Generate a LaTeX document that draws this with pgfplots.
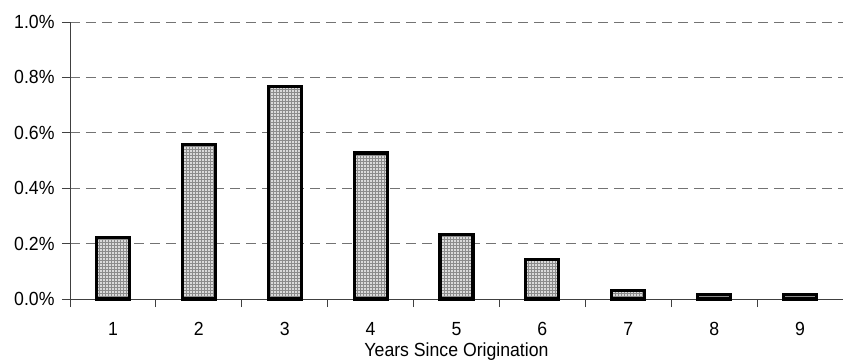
\documentclass[border=0pt]{standalone}
\usepackage{pgfplots}
\pgfplotsset{compat=1.18}
\usepackage{fontspec}
\setmainfont{Liberation Sans}[FakeStretch=0.93]
\usetikzlibrary{patterns}

\begin{document}
\begin{tikzpicture}
\begin{axis}[
    name=main,
    font=\fontsize{19}{22}\selectfont,
    scale only axis,
    width=773pt,
    height=277pt,
    ybar,
    bar width=33pt,
    xmin=0.5, xmax=9.5,
    ymin=0, ymax=1.0,
    axis x line*=bottom,
    axis y line*=left,
    axis line style={black!75, line width=0.8pt},
    tick align=outside,
    major tick length=8pt,
    tick style={black!75, line width=0.8pt},
    % category boundaries carry the tick marks, the centres carry the labels
    xtick={0.5,1.5,...,8.5},
    xticklabels={},
    extra x ticks={1,...,9},
    extra x tick labels={1,2,3,4,5,6,7,8,9},
    extra x tick style={major tick length=0pt, grid=none,
        xticklabel style={anchor=base, inner sep=0pt, yshift=-36pt}},
    ytick={0,0.2,...,1.0},
    yticklabel={\pgfmathprintnumber[fixed,fixed zerofill,precision=1]{\tick}\%},
    yticklabel style={xshift=-4pt},
    /pgf/number format/assume math mode=true,
    ymajorgrids,
    grid style={black!55, line width=0.8pt, dash pattern=on 10pt off 6pt},
    xlabel={Years Since Origination},
    xlabel style={at={(rel axis cs:0.5,0)}, anchor=base, inner sep=0pt, yshift=-57pt},
    clip=false,
]
\addplot[fill=black!14, draw=black, line width=3.2pt,
    postaction={pattern=grid, pattern color=black!45}] coordinates {
    (1, 0.222)
    (2, 0.557)
    (3, 0.767)
    (4, 0.527)
    (5, 0.232)
    (6, 0.144)
    (7, 0.030)
    (8, 0.016)
    (9, 0.016)
};
\end{axis}
\pgfresetboundingbox
\useasboundingbox ([xshift=-70pt,yshift=-60pt]main.south west) rectangle ([yshift=22pt]main.north east);
\end{tikzpicture}
\end{document}
